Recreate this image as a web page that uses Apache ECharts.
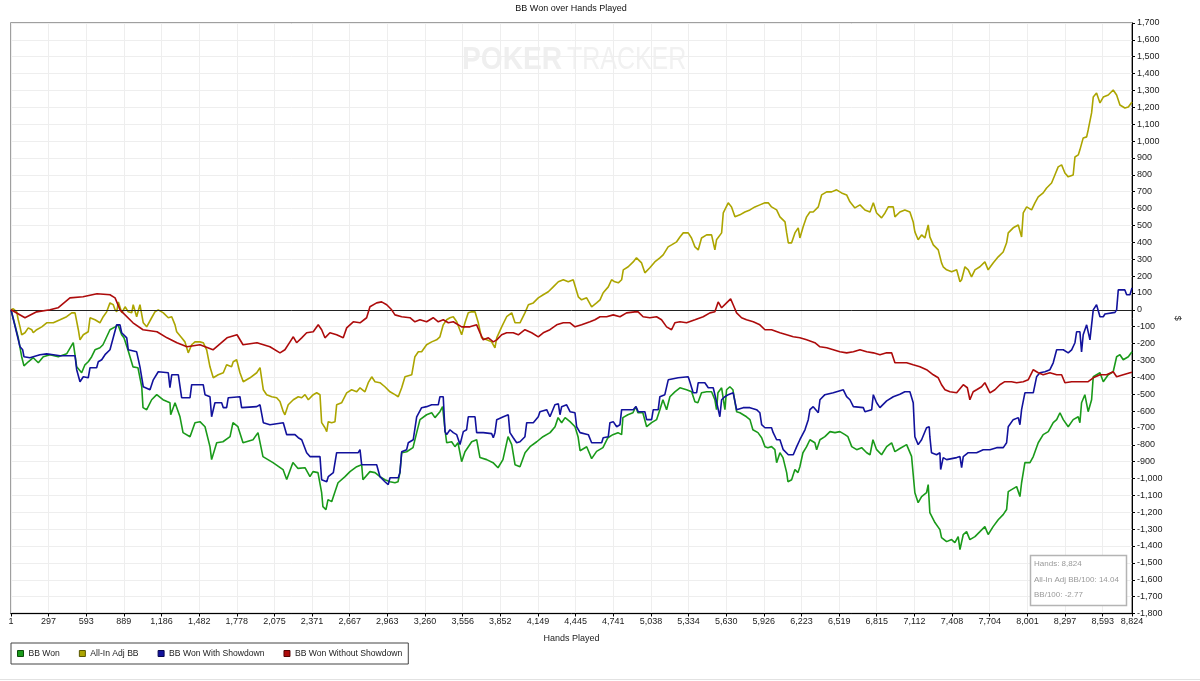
<!DOCTYPE html>
<html><head><meta charset="utf-8">
<script src="https://cdn.jsdelivr.net/npm/echarts@6/dist/echarts.min.js"></script>
<style>html,body{margin:0;padding:0;background:#fff}#c{width:1200px;height:681px}</style>
</head><body><div id="c"></div>
<script>
const chartTitle = 'BB Won over Hands Played';
const xAxisName = 'Hands Played';
const yAxisName = '$';
const xTickHands = [1,297,593,889,1186,1482,1778,2075,2371,2667,2963,3260,3556,3852,4149,4445,4741,5038,5334,5630,5926,6223,6519,6815,7112,7408,7704,8001,8297,8593,8824];
const seriesNames = ['BB Won','All-In Adj BB','BB Won With Showdown','BB Won Without Showdown'];
const infoLines = ['Hands: 8,824','All-In Adj BB/100: 14.04','BB/100: -2.77'];

const bbWonHands = [1,14,32,58,85,103,137,176,216,255,308,373,439,491,518,557,583,609,636,662,701,725,780,820,843,872,890,921,961,1000,1030,1040,1069,1108,1148,1197,1252,1258,1292,1331,1355,1410,1449,1488,1528,1567,1580,1620,1669,1725,1748,1787,1827,1906,1945,1984,2063,2142,2171,2220,2260,2315,2354,2378,2417,2446,2456,2480,2496,2525,2551,2575,2630,2669,2722,2761,2771,2826,2866,2905,2944,2984,3023,3047,3062,3076,3115,3165,3194,3220,3272,3312,3338,3377,3398,3417,3430,3469,3495,3519,3548,3574,3627,3666,3692,3745,3795,3834,3873,3913,3942,3968,4007,4047,4086,4139,4188,4244,4283,4307,4335,4362,4401,4440,4464,4480,4532,4571,4610,4660,4699,4738,4778,4807,4817,4856,4896,4919,4935,4974,5004,5043,5082,5108,5132,5161,5187,5226,5266,5318,5358,5384,5407,5436,5476,5515,5541,5554,5565,5594,5620,5633,5659,5683,5712,5738,5790,5817,5840,5880,5909,5935,5958,5987,6013,6027,6053,6077,6106,6116,6145,6171,6195,6210,6234,6263,6289,6328,6342,6368,6407,6447,6486,6525,6565,6588,6618,6657,6696,6736,6762,6785,6814,6853,6893,6932,6958,6997,7050,7089,7115,7141,7168,7207,7220,7233,7273,7312,7325,7365,7404,7430,7456,7470,7496,7522,7548,7588,7627,7666,7692,7731,7771,7810,7837,7850,7876,7916,7942,7955,7981,8021,8047,8086,8125,8165,8204,8231,8257,8283,8322,8361,8401,8414,8427,8453,8479,8506,8519,8572,8598,8637,8676,8703,8729,8755,8795,8824];
const bbWonValues = [0,4,-89,-166,-278,-332,-308,-284,-314,-278,-266,-278,-261,-195,-338,-373,-326,-308,-278,-237,-225,-207,-118,-101,-89,-148,-166,-237,-338,-343,-456,-580,-592,-533,-503,-533,-551,-622,-551,-634,-728,-752,-669,-663,-693,-811,-888,-788,-782,-752,-669,-693,-788,-770,-728,-870,-906,-947,-1006,-905,-940,-936,-989,-959,-965,-1084,-1167,-1184,-1125,-1137,-1078,-1025,-989,-959,-930,-918,-1007,-959,-965,-989,-1007,-1019,-1025,-1019,-965,-847,-841,-817,-728,-651,-622,-610,-639,-604,-574,-711,-788,-782,-811,-788,-900,-841,-782,-770,-876,-888,-906,-936,-888,-752,-799,-918,-930,-847,-811,-782,-752,-728,-693,-639,-669,-639,-663,-693,-752,-835,-812,-882,-839,-817,-758,-740,-728,-740,-639,-622,-610,-574,-610,-610,-693,-669,-651,-592,-533,-592,-515,-486,-462,-474,-486,-545,-551,-492,-486,-486,-533,-592,-492,-462,-592,-474,-456,-474,-604,-610,-634,-651,-711,-728,-758,-811,-817,-811,-829,-906,-847,-876,-965,-1019,-1007,-947,-965,-930,-847,-811,-770,-788,-829,-770,-752,-722,-728,-722,-740,-752,-811,-829,-817,-847,-859,-770,-829,-859,-811,-788,-841,-822,-799,-869,-1084,-1143,-1107,-1084,-1036,-1202,-1261,-1303,-1350,-1374,-1362,-1380,-1344,-1421,-1332,-1315,-1362,-1344,-1315,-1285,-1332,-1285,-1244,-1214,-1184,-1078,-1066,-1048,-1107,-1025,-906,-906,-870,-788,-740,-722,-669,-651,-610,-651,-693,-651,-634,-669,-551,-503,-604,-533,-397,-373,-426,-385,-367,-278,-266,-296,-278,-249];

const allInHands = [1,19,46,58,72,85,111,137,164,176,203,243,282,334,387,439,479,505,531,544,570,609,623,662,701,727,754,780,806,820,833,846,873,899,924,951,963,990,1016,1042,1069,1108,1134,1160,1200,1239,1266,1292,1305,1344,1370,1396,1423,1449,1488,1514,1541,1567,1593,1632,1672,1698,1737,1750,1777,1803,1829,1882,1935,1961,1987,2013,2053,2092,2118,2144,2157,2183,2223,2262,2289,2315,2341,2380,2407,2433,2446,2472,2486,2498,2525,2551,2564,2603,2643,2682,2722,2748,2787,2813,2840,2866,2905,2944,2984,3023,3049,3076,3102,3155,3180,3207,3233,3272,3312,3351,3377,3403,3430,3456,3482,3509,3548,3574,3600,3627,3653,3679,3705,3745,3784,3810,3824,3863,3902,3942,3968,4007,4046,4073,4112,4151,4190,4230,4269,4309,4348,4387,4426,4466,4492,4532,4571,4610,4637,4662,4702,4728,4754,4781,4807,4820,4859,4898,4924,4964,4990,5029,5068,5108,5134,5173,5200,5240,5266,5292,5331,5357,5384,5410,5436,5476,5515,5541,5554,5594,5607,5646,5672,5699,5738,5777,5817,5856,5895,5935,5961,5987,6027,6053,6093,6106,6119,6145,6171,6197,6210,6236,6263,6289,6315,6355,6381,6421,6460,6499,6538,6578,6604,6643,6683,6722,6762,6788,6814,6853,6880,6906,6945,6958,6997,7036,7076,7102,7115,7141,7168,7194,7220,7233,7260,7299,7325,7338,7365,7404,7444,7470,7483,7509,7535,7561,7588,7627,7666,7692,7731,7771,7810,7837,7850,7889,7929,7955,7968,7995,8034,8060,8086,8125,8152,8191,8217,8243,8270,8296,8322,8361,8375,8401,8414,8440,8467,8479,8506,8519,8545,8572,8598,8637,8676,8703,8729,8768,8795,8824];
const allInValues = [0,6,-12,-59,-101,-148,-136,-107,-118,-136,-118,-101,-77,-77,-59,-41,-18,-18,-118,-178,-148,-130,-47,-59,-77,-41,-12,41,30,0,-12,47,-18,18,-12,-18,30,-41,30,-77,-101,-47,-12,0,-18,-47,-41,-89,-130,-166,-190,-255,-207,-190,-190,-195,-237,-338,-403,-385,-373,-326,-338,-308,-296,-373,-426,-403,-373,-343,-474,-503,-515,-521,-543,-604,-622,-563,-533,-515,-521,-503,-533,-503,-492,-503,-669,-699,-722,-663,-669,-663,-563,-551,-492,-474,-486,-462,-486,-432,-397,-426,-432,-456,-486,-503,-515,-462,-397,-385,-278,-249,-249,-207,-190,-178,-160,-89,-59,-47,-41,-71,-148,-77,-18,-12,-12,-77,-166,-178,-190,-225,-166,-101,-41,-18,-77,-77,-18,30,41,71,89,107,136,166,178,166,178,77,59,71,18,41,59,101,136,178,166,160,178,237,255,284,308,278,219,249,284,308,326,373,385,403,432,456,456,426,373,355,426,444,444,355,415,456,574,634,610,551,563,580,592,610,622,634,634,610,592,551,521,456,397,397,456,486,426,492,551,580,580,610,681,699,699,711,693,681,640,604,622,592,580,634,574,545,574,610,610,551,580,592,580,521,462,415,444,426,503,432,385,355,278,255,237,225,237,166,178,255,237,195,237,255,284,237,278,314,343,397,456,486,503,432,574,610,592,634,669,693,722,752,799,847,859,811,788,799,906,918,948,1019,1025,1066,1167,1261,1285,1226,1261,1273,1303,1273,1214,1196,1202,1232];

const withSdHands = [1,14,72,93,103,150,176,229,282,334,387,505,518,544,570,609,623,675,688,715,741,780,833,859,872,912,924,990,1016,1042,1095,1121,1160,1239,1252,1266,1318,1344,1410,1423,1514,1528,1567,1580,1606,1659,1672,1698,1711,1803,1816,1935,1961,1987,2039,2144,2171,2236,2262,2289,2328,2354,2433,2446,2486,2498,2538,2564,2734,2748,2761,2879,2905,2944,2970,2984,3049,3062,3076,3115,3128,3167,3194,3233,3272,3312,3364,3377,3403,3417,3430,3456,3482,3509,3535,3561,3587,3600,3653,3666,3718,3784,3797,3810,3824,3876,3915,3928,3954,3981,4007,4046,4060,4112,4151,4164,4217,4243,4282,4309,4322,4335,4374,4401,4440,4453,4480,4545,4571,4650,4662,4702,4715,4741,4768,4794,4807,4898,4920,4938,4990,5004,5043,5056,5095,5108,5147,5174,5252,5331,5344,5370,5397,5410,5462,5489,5528,5554,5580,5594,5620,5646,5685,5712,5764,5817,5869,5895,5909,5935,5987,6000,6027,6053,6079,6119,6158,6185,6210,6250,6276,6289,6315,6355,6368,6407,6473,6552,6578,6604,6631,6709,6722,6775,6788,6814,6840,6893,6945,6997,7036,7076,7102,7115,7141,7168,7207,7228,7233,7246,7286,7312,7318,7338,7365,7444,7470,7483,7496,7535,7601,7653,7706,7759,7811,7837,7850,7889,7929,7942,7955,7981,8047,8073,8099,8139,8178,8204,8231,8283,8322,8349,8375,8388,8414,8427,8440,8467,8493,8506,8519,8545,8558,8572,8598,8611,8690,8703,8716,8768,8782,8808,8824];
const withSdValues = [0,6,-219,-237,-278,-284,-278,-266,-261,-266,-272,-272,-355,-426,-397,-403,-343,-343,-308,-296,-266,-237,-89,-89,-136,-166,-237,-249,-338,-456,-474,-415,-367,-373,-462,-385,-385,-521,-521,-444,-444,-503,-515,-634,-551,-551,-580,-580,-521,-515,-580,-574,-563,-669,-681,-669,-740,-740,-758,-770,-847,-870,-870,-1007,-1019,-989,-965,-847,-847,-829,-918,-918,-989,-1019,-1036,-995,-995,-965,-841,-829,-788,-770,-634,-580,-574,-563,-563,-515,-515,-722,-740,-711,-728,-740,-799,-722,-711,-634,-634,-728,-728,-734,-758,-728,-651,-634,-622,-728,-758,-788,-782,-752,-669,-669,-634,-604,-592,-634,-563,-557,-622,-574,-563,-604,-610,-693,-728,-740,-788,-788,-758,-752,-669,-663,-693,-681,-592,-592,-574,-604,-604,-651,-651,-592,-592,-515,-503,-415,-403,-397,-426,-492,-492,-432,-432,-462,-462,-545,-634,-533,-515,-503,-492,-592,-580,-580,-592,-610,-681,-699,-699,-728,-770,-770,-829,-859,-859,-811,-770,-711,-651,-592,-574,-610,-533,-503,-492,-474,-515,-533,-574,-580,-604,-592,-503,-551,-580,-540,-515,-500,-486,-486,-551,-752,-799,-770,-699,-693,-752,-847,-859,-847,-947,-876,-888,-876,-870,-936,-870,-847,-847,-829,-829,-817,-817,-788,-693,-651,-639,-681,-592,-492,-492,-397,-373,-367,-355,-314,-237,-237,-255,-237,-195,-130,-130,-249,-148,-89,-178,-89,0,30,30,-41,-41,-25,-15,0,118,118,89,89,130];

const withoutSdHands = [1,111,203,308,371,465,568,678,780,820,859,961,1040,1150,1229,1307,1386,1488,1591,1701,1780,1827,1937,2039,2118,2157,2197,2223,2249,2289,2328,2380,2419,2446,2472,2511,2564,2616,2643,2695,2748,2800,2826,2879,2918,2958,2997,3023,3076,3141,3180,3220,3272,3324,3364,3403,3443,3482,3548,3613,3666,3692,3718,3758,3797,3824,3863,3902,3954,3994,4046,4099,4151,4190,4243,4296,4348,4401,4440,4492,4558,4597,4637,4689,4741,4794,4846,4911,4937,4976,5029,5082,5121,5161,5200,5226,5266,5318,5384,5449,5502,5541,5567,5594,5633,5665,5685,5712,5751,5790,5843,5895,5935,5987,6053,6106,6158,6210,6263,6328,6368,6421,6473,6525,6578,6631,6683,6736,6788,6840,6893,6932,6958,6997,7050,7102,7155,7207,7260,7299,7325,7352,7391,7444,7496,7528,7548,7574,7601,7640,7666,7706,7745,7784,7823,7876,7916,7968,8007,8047,8086,8125,8178,8231,8270,8296,8349,8388,8440,8479,8519,8572,8624,8676,8703,8755,8808,8824];
const withoutSdValues = [0,-47,-12,0,12,71,77,95,89,71,0,-77,-118,-130,-166,-195,-219,-207,-237,-166,-148,-207,-195,-219,-255,-237,-190,-160,-195,-166,-136,-130,-89,-118,-166,-136,-148,-166,-107,-71,-77,-47,18,41,47,30,0,-30,-41,-47,-71,-59,-71,-47,-71,-59,-77,-71,-101,-101,-89,-136,-178,-166,-190,-178,-148,-136,-136,-148,-118,-136,-160,-136,-118,-89,-77,-77,-101,-89,-71,-59,-41,-41,-30,-41,-18,-12,-12,-41,-47,-41,-59,-101,-118,-77,-71,-77,-59,-41,-18,-12,47,12,41,65,30,-18,-47,-59,-71,-89,-118,-118,-136,-148,-160,-166,-178,-195,-219,-225,-237,-249,-255,-249,-237,-249,-255,-266,-255,-255,-314,-314,-314,-326,-338,-355,-385,-403,-444,-474,-486,-492,-444,-462,-533,-486,-474,-456,-432,-492,-474,-444,-426,-426,-432,-426,-415,-355,-373,-385,-373,-385,-385,-432,-426,-426,-426,-426,-403,-385,-385,-367,-397,-385,-373,-370];

const seriesColors = ['#1a9a1a','#aca500','#12129c','#ad0b0b'];
const seriesBorders = ['#0b4d0b','#5a5600','#06064d','#560505'];

const FONT = '"Liberation Sans", Arial, sans-serif';
const zip = (h, v) => h.map((x, i) => [x, v[i]]);
const fmt = v => Number(v).toLocaleString('en-US');
const seriesData = [
  zip(bbWonHands, bbWonValues),
  zip(allInHands, allInValues),
  zip(withSdHands, withSdValues),
  zip(withoutSdHands, withoutSdValues)
];

const chart = echarts.init(document.getElementById('c'), null, {renderer: 'canvas'});
const option = {
  animation: false,
  backgroundColor: '#ffffff',
  textStyle: {fontFamily: FONT},
  title: {
    text: chartTitle, left: 571, top: 4, textAlign: 'center', padding: 0,
    textStyle: {fontSize: 9, fontWeight: 'normal', color: '#111', fontFamily: FONT}
  },
  grid: {
    left: 11, right: 68, top: 23, bottom: 67.5,
    show: true, borderColor: '#808080', borderWidth: 1.5, backgroundColor: 'transparent'
  },
  xAxis: {
    type: 'value', min: 1, max: 8824,
    name: xAxisName, nameLocation: 'middle', nameGap: 21,
    nameTextStyle: {fontSize: 9, color: '#222', fontFamily: FONT},
    axisLine: {show: true, onZero: false, lineStyle: {color: '#000', width: 1}},
    axisTick: {show: true, length: 3, customValues: xTickHands, lineStyle: {color: '#000'}},
    axisLabel: {customValues: xTickHands, fontSize: 9, color: '#222', margin: 4, formatter: fmt, fontFamily: FONT},
    splitLine: {show: true, lineStyle: {color: '#eeeeee', width: 1}}
  },
  yAxis: {
    type: 'value', position: 'right', min: -1800, max: 1700, interval: 100,
    name: yAxisName, nameLocation: 'middle', nameGap: 38, nameRotate: -90,
    nameTextStyle: {fontSize: 9, color: '#222', fontFamily: FONT},
    axisLine: {show: true, onZero: false, lineStyle: {color: '#000', width: 1}},
    axisTick: {show: true, length: 3, lineStyle: {color: '#000'}},
    axisLabel: {fontSize: 9, color: '#222', margin: 5, formatter: fmt, fontFamily: FONT},
    splitLine: {show: true, lineStyle: {color: '#eeeeee', width: 1}}
  },
  legend: {
    left: 11, top: 643, orient: 'horizontal',
    padding: [6, 6, 6, 6], itemGap: 19, itemWidth: 6, itemHeight: 6, icon: 'rect',
    borderColor: '#444', borderWidth: 1, backgroundColor: '#fff',
    textStyle: {fontSize: 8.6, color: '#222', fontFamily: FONT},
    data: seriesNames.map((n, i) => ({name: n, itemStyle: {color: seriesColors[i], borderColor: seriesBorders[i], borderWidth: 1}}))
  },
  series: seriesNames.map((n, i) => ({
    name: n, type: 'line', data: seriesData[i], showSymbol: false, symbol: 'none',
    lineStyle: {color: seriesColors[i], width: 1.6},
    itemStyle: {color: seriesColors[i], borderColor: seriesBorders[i], borderWidth: 1},
    z: 3 + i,
    markLine: i === 0 ? {
      silent: true, symbol: ['none', 'none'], label: {show: false},
      lineStyle: {color: '#222', width: 1, type: 'solid'},
      data: [{yAxis: 0}]
    } : undefined
  })),
  graphic: [
    {type: 'text', x: 462, y: 60, z: 0, scaleX: 0.88, silent: true,
      style: {text: 'POKER', font: 'bold 32px ' + FONT, fill: '#efefef', textVerticalAlign: 'middle'}},
    {type: 'text', x: 567, y: 60, z: 0, scaleX: 0.78, silent: true,
      style: {text: 'TRACKER', font: '32px ' + FONT, fill: '#f1f1f1', textVerticalAlign: 'middle'}},
    {type: 'rect', shape: {x: 1030.5, y: 555.5, width: 96, height: 50}, z: 50,
      style: {fill: '#ffffff', stroke: '#b4b4b4', lineWidth: 1.5}},
    {type: 'text', x: 1034, y: 564, z: 51,
      style: {text: infoLines[0], font: '8px ' + FONT, fill: '#999', textVerticalAlign: 'middle'}},
    {type: 'text', x: 1034, y: 579.5, z: 51,
      style: {text: infoLines[1], font: '8px ' + FONT, fill: '#999', textVerticalAlign: 'middle'}},
    {type: 'text', x: 1034, y: 594.5, z: 51,
      style: {text: infoLines[2], font: '8px ' + FONT, fill: '#999', textVerticalAlign: 'middle'}},
    {type: 'line', shape: {x1: 0, y1: 679.5, x2: 1200, y2: 679.5}, z: 0,
      style: {stroke: '#e2e2e2', lineWidth: 1}}
  ]
};
chart.setOption(option);
</script>
</body></html>
